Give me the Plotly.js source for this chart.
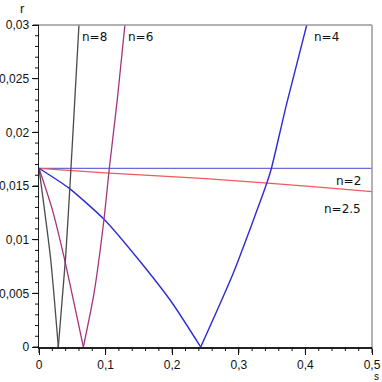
<!DOCTYPE html>
<html>
<head>
<meta charset="utf-8">
<script src="https://cdn.plot.ly/plotly-3.0.1.min.js"></script>
<style>
  html, body { margin: 0; padding: 0; background: #fff; }
  #chart { width: 382px; height: 382px; }
</style>
</head>
<body>
<div id="chart"></div>
<script>
// values
const s2 = [0, 0.5];
const r2 = [0.01665, 0.01665];

const s25 = [0, 0.105, 0.25, 0.42, 0.5];
const r25 = [0.01665, 0.0162, 0.01568, 0.0149, 0.01447];

const s4 = [0, 0.045, 0.0976, 0.15, 0.2, 0.2428, 0.2918, 0.342, 0.349, 0.372, 0.402];
const r4 = [0.01665, 0.0148, 0.0119, 0.0081, 0.0041, 0, 0.0069, 0.01525, 0.01665, 0.0227, 0.03];

const s6 = [0, 0.02, 0.0375, 0.0666, 0.0826, 0.0976, 0.1056, 0.118, 0.129];
const r6 = [0.01665, 0.0128, 0.0084, 0, 0.005, 0.0119, 0.01665, 0.0233, 0.03];

const s8 = [0, 0.0175, 0.029, 0.040, 0.048, 0.054, 0.060];
const r8 = [0.01665, 0.0082, 0, 0.0084, 0.01665, 0.0233, 0.03];

const xRange = [0, 0.5], yRange = [0, 0.03];
const xMajor = 0.1, yMajor = 0.005;

function line(x, y, color, width, shape) {
  return { type: 'scatter', mode: 'lines', x: x, y: y,
    line: {color: color, width: width, shape: shape || 'linear', smoothing: 0.6}, hoverinfo: 'none' };
}

// V-shaped curves: split at the zero so each branch can be smoothed
function vee(x, y, color, width) {
  const k = y.indexOf(0);
  return [
    line(x.slice(0, k + 1), y.slice(0, k + 1), color, width, 'spline'),
    line(x.slice(k), y.slice(k), color, width, 'spline')
  ];
}

let plotData = [
  line(s2, r2, '#6b6bd6', 1.2),
  line(s25, r25, '#f05a5a', 1.2, 'spline'),
  ...vee(s4, r4, '#2b2bd8', 1.4),
  ...vee(s6, r6, '#a8327e', 1.3),
  ...vee(s8, r8, '#4a4a4a', 1.3)
];

const labelFont = {family: 'DejaVu Sans, Verdana, sans-serif', size: 12, color: '#111'};

// tick marks in paper units so nothing clips them (plot area 333 x 322 px)
let shapes = [
  {type: 'line', xref: 'paper', yref: 'paper', x0: 0, x1: 1, y0: 1, y1: 1, line: {color: '#999', width: 1.5}},
  {type: 'line', xref: 'paper', yref: 'paper', x0: 1, x1: 1, y0: 0, y1: 1, line: {color: '#999', width: 1.5}}
];
for (let i = 0; i <= 25; i++) {
  const p = i / 25;
  const len = (i % 5 === 0 ? 6 : 4) / 322;
  shapes.push({type: 'line', xref: 'paper', yref: 'paper', x0: p, x1: p, y0: 0, y1: -len, line: {color: '#111', width: 1}});
}
for (let i = 0; i <= 30; i++) {
  const p = i / 30;
  const len = (i % 5 === 0 ? 6 : 4) / 333;
  shapes.push({type: 'line', xref: 'paper', yref: 'paper', x0: 0, x1: -len, y0: p, y1: p, line: {color: '#111', width: 1}});
}

let layout = {
  width: 382,
  height: 382,
  margin: {l: 39, r: 10, t: 25, b: 35},
  showlegend: false,
  separators: ', ',
  paper_bgcolor: '#fff',
  plot_bgcolor: '#fff',
  font: {family: 'Liberation Sans, Arial, sans-serif', size: 12, color: '#111'},
  xaxis: {
    range: xRange, tickmode: 'linear', tick0: 0, dtick: xMajor,
    ticks: 'outside', ticklen: 6, tickwidth: 1, tickcolor: '#111',
    showgrid: false, zeroline: false,
    showline: true, linecolor: '#222', linewidth: 1.5,
    tickfont: {size: 12}
  },
  yaxis: {
    range: yRange, tickmode: 'linear', tick0: 0, dtick: yMajor,
    ticks: 'outside', ticklen: 6, tickwidth: 1, tickcolor: '#111',
    showgrid: false, zeroline: false,
    showline: true, linecolor: '#222', linewidth: 1.5,
    tickfont: {size: 12}
  },
  shapes: shapes,
  annotations: [
    {text: 'r', xref: 'paper', yref: 'paper', x: -0.051, y: 1.05, xanchor: 'center', yanchor: 'middle', showarrow: false, font: {size: 13}},
    {text: 's', xref: 'paper', yref: 'paper', x: 1.015, y: -0.092, xanchor: 'center', yanchor: 'middle', showarrow: false, font: {size: 10}},
    {text: 'n=8', x: 0.062, y: 0.0297, xanchor: 'left', yanchor: 'top', showarrow: false, font: labelFont},
    {text: 'n=6', x: 0.131, y: 0.0297, xanchor: 'left', yanchor: 'top', showarrow: false, font: labelFont},
    {text: 'n=4', x: 0.41, y: 0.0297, xanchor: 'left', yanchor: 'top', showarrow: false, font: labelFont},
    {text: 'n=2', x: 0.487, y: 0.0155, xanchor: 'right', yanchor: 'middle', showarrow: false, font: labelFont},
    {text: 'n=2.5', x: 0.487, y: 0.0129, xanchor: 'right', yanchor: 'middle', showarrow: false, font: labelFont}
  ]
};

Plotly.newPlot('chart', plotData, layout, {staticPlot: true});
</script>
</body>
</html>
